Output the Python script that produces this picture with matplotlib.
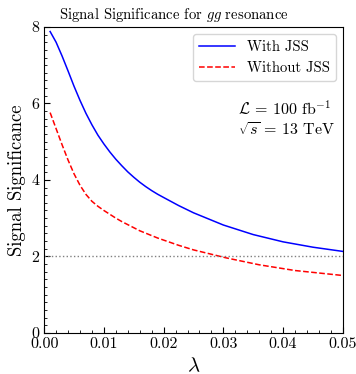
'''
Signal significance vs lambda, with and without JSS
'''

# Imports
import numpy as np
import matplotlib
matplotlib.use("Agg")
import matplotlib.pyplot as plt

# Style
plt.rcParams['font.family'] = 'serif'
plt.rcParams['font.serif'] = ['cmr10']
plt.rcParams['mathtext.fontset'] = 'cm'
plt.rcParams['axes.formatter.use_mathtext'] = True
plt.rcParams['axes.unicode_minus'] = False

# Data
lam_jss = [0.001, 0.002, 0.003, 0.004, 0.005, 0.006, 0.007, 0.008, 0.009, 0.010,
           0.011, 0.012, 0.013, 0.014, 0.015, 0.016, 0.017, 0.018, 0.019, 0.020,
           0.0225, 0.025, 0.030, 0.035, 0.040, 0.045, 0.050]
sig_jss = [7.88, 7.60, 7.24, 6.85, 6.45, 6.08, 5.74, 5.44, 5.17, 4.94,
           4.73, 4.54, 4.37, 4.21, 4.07, 3.94, 3.825, 3.72, 3.625, 3.54,
           3.33, 3.14, 2.82, 2.57, 2.38, 2.24, 2.13]
lam_nojss = [0.001, 0.002, 0.003, 0.004, 0.005, 0.006, 0.007, 0.008, 0.009, 0.010,
             0.011, 0.012, 0.013, 0.016, 0.019, 0.0225, 0.025, 0.0305, 0.036, 0.042, 0.05]
sig_nojss = [5.76, 5.34, 4.92, 4.52, 4.16, 3.86, 3.62, 3.44, 3.31, 3.20,
             3.10, 3.00, 2.91, 2.67, 2.48, 2.29, 2.17, 1.96, 1.78, 1.63, 1.50]
threshold = 2.0

xticks = [0.00, 0.01, 0.02, 0.03, 0.04, 0.05]
yticks = [0, 2, 4, 6, 8]

# Plot
fig = plt.figure(figsize=(3.56, 3.74), dpi=100)
ax = fig.add_axes([0.124, 0.110, 0.839, 0.818])

ax.plot(lam_jss, sig_jss, color='blue', lw=1.1, label='With JSS')
ax.plot(lam_nojss, sig_nojss, color='red', lw=1.1, ls='--', label='Without JSS')
ax.axhline(threshold, color='gray', lw=1.0, ls=':')

ax.set_xlim(0, 0.05)
ax.set_ylim(0, 8)
ax.set_xticks(xticks)
ax.set_xticklabels(['%.2f' % t for t in xticks])
ax.set_yticks(yticks)
ax.set_yticklabels([str(t) for t in yticks])
ax.set_xticks(np.arange(0, 0.0501, 0.002), minor=True)
ax.set_yticks(np.arange(0, 8.01, 0.2), minor=True)
ax.tick_params(which='both', direction='in', labelsize=11.5)
ax.tick_params(which='major', length=4)
ax.tick_params(which='minor', length=2)

ax.set_xlabel(r'$\lambda$', fontsize=15)
ax.set_ylabel('Signal Significance', fontsize=13.5)
ax.set_title(r'Signal Significance for $gg$ resonance', fontsize=10.6, x=0.435)

ax.legend(loc='upper right', fontsize=10.5, handlelength=2.5)
ax.text(0.649, 0.70, r'$\mathcal{L}$ = 100 fb$^{-1}$' + '\n' + r'$\sqrt{s}$ = 13 TeV',
        transform=ax.transAxes, fontsize=11.5, va='center', ha='left', linespacing=1.3)

fig.savefig('out.png', dpi=100)
